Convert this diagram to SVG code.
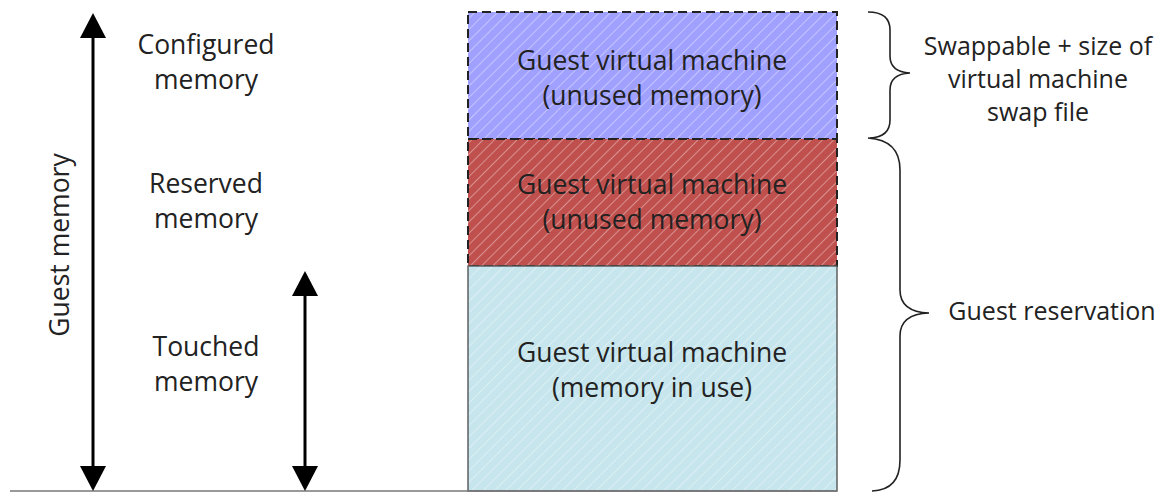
<svg xmlns="http://www.w3.org/2000/svg" width="1173" height="493" viewBox="0 0 1173 493">
<defs>
<pattern id="hatch" patternUnits="userSpaceOnUse" width="8" height="8" patternTransform="rotate(45)">
<line x1="0" y1="0" x2="0" y2="8" stroke="#ffffff" stroke-opacity="0.5" stroke-width="1.5"/>
</pattern>
<marker id="ah" viewBox="0 0 25 26" markerWidth="25" markerHeight="26" refX="0" refY="13" orient="auto-start-reverse" markerUnits="userSpaceOnUse">
<path d="M0,0 L25,13 L0,26 Z" fill="#000"/>
</marker>
</defs>
<style>
text{font-family:"Open Sans","Liberation Sans",sans-serif;font-size:26.5px;fill:#222;text-anchor:middle}
.side{font-size:25px}
.dash{stroke:#222;stroke-width:2;stroke-dasharray:9 5}
.brace{fill:none;stroke:#222;stroke-width:1.6}
.arrow{stroke:#000;stroke-width:3;fill:none}
</style>
<rect width="1173" height="493" fill="#fff"/>
<g id="block-swap">
<rect x="468" y="12" width="369" height="127" fill="#a0a0ff"/>
<rect x="468" y="12" width="369" height="127" fill="url(#hatch)" class="dash"/>
<text x="652" y="70">Guest virtual machine</text>
<text x="652" y="105">(unused memory)</text>
</g>
<g id="block-reserved">
<rect x="468" y="139" width="369" height="127" fill="#c0504d"/>
<rect x="468" y="139" width="369" height="127" fill="url(#hatch)" class="dash"/>
<text x="652" y="194">Guest virtual machine</text>
<text x="652" y="229">(unused memory)</text>
</g>
<g id="block-used">
<rect x="468" y="266" width="369" height="225" fill="#c6e5ec"/>
<rect x="468" y="266" width="369" height="225" fill="url(#hatch)" stroke="#555" stroke-width="1.4"/>
<text x="652" y="362">Guest virtual machine</text>
<text x="652" y="397">(memory in use)</text>
</g>
<g id="label-configured"><text x="206" y="54">Configured</text><text x="206" y="89">memory</text></g>
<g id="label-reserved"><text x="206" y="193">Reserved</text><text x="206" y="228">memory</text></g>
<g id="label-touched"><text x="206" y="356">Touched</text><text x="206" y="391">memory</text></g>
<g id="label-guest-memory"><text transform="translate(69,245) rotate(-90)">Guest memory</text></g>
<g id="label-swappable"><text class="side" x="1038" y="55">Swappable + size of</text><text class="side" x="1038" y="88">virtual machine</text><text class="side" x="1038" y="121">swap file</text></g>
<g id="label-guest-reservation"><text class="side" x="1052" y="320">Guest reservation</text></g>
<g id="connectors">
<line x1="10" y1="491" x2="837" y2="491" stroke="#777" stroke-width="1.6"/>
<line x1="93" y1="38" x2="93" y2="466" class="arrow" marker-start="url(#ah)" marker-end="url(#ah)"/>
<line x1="305" y1="296" x2="305" y2="466" class="arrow" marker-start="url(#ah)" marker-end="url(#ah)"/>
<path class="brace" d="M868,12 Q890,12 890,30 L890,56 Q890,72 910,73 Q890,74 890,90 L890,120 Q890,137 870,138"/>
<path class="brace" d="M868,138 Q900,140 900,170 L900,290 Q900,312 929,313 Q900,314 900,336 L900,460 Q900,490 872,491"/>
</g>
</svg>
